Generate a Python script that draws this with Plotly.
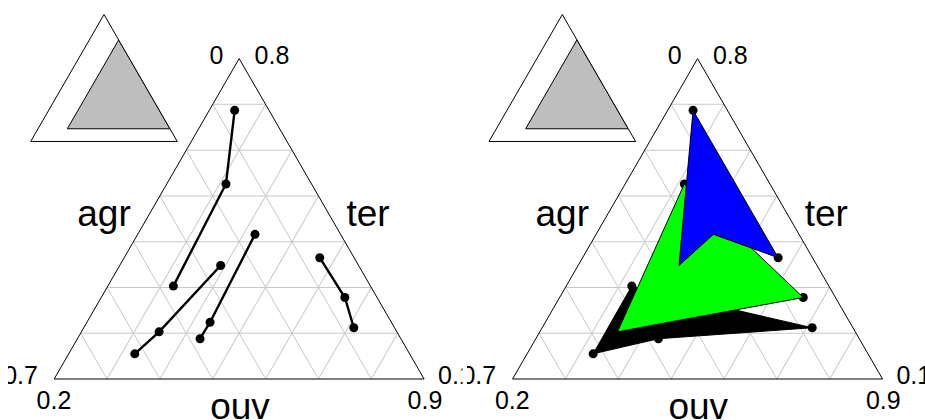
import plotly.graph_objects as go

# ---- data (compositions) ----
var_names = ["agr", "ouv", "ter"]
agr_min, ouv_min, ter_min = 0.0, 0.2, 0.1

# four trajectories (rows) observed at three dates
agr_t1 = [0.065, 0.261, 0.162, 0.065]
ouv_t1 = [0.248, 0.391, 0.422, 0.570]
ter_t1 = [0.687, 0.348, 0.416, 0.365]

agr_t2 = [0.162, 0.450, 0.343, 0.061]
ouv_t2 = [0.312, 0.347, 0.433, 0.661]
ter_t2 = [0.526, 0.203, 0.224, 0.278]

agr_t3 = [0.373, 0.520, 0.380, 0.077]
ouv_t3 = [0.324, 0.325, 0.432, 0.711]
ter_t3 = [0.303, 0.155, 0.188, 0.212]

poly_colors = ["#0000FF", "#00FF00", "#000000"]  # date 1, 2, 3

agr_max = 1 - ouv_min - ter_min
ouv_max = 1 - agr_min - ter_min
ter_max = 1 - agr_min - ouv_min


def fmt(v):
    s = f"{v:.1f}"
    return "0" if s == "0.0" else s


FONT = "Liberation Sans, Arial, Helvetica, sans-serif"

fig = go.Figure()

# ---- left main panel: trajectories ----
for i in range(4):
    fig.add_trace(go.Scatterternary(
        a=[ter_t1[i], ter_t2[i], ter_t3[i]],
        b=[agr_t1[i], agr_t2[i], agr_t3[i]],
        c=[ouv_t1[i], ouv_t2[i], ouv_t3[i]],
        mode="lines+markers",
        line=dict(color="black", width=2.4),
        marker=dict(color="black", size=9),
        subplot="ternary", showlegend=False, hoverinfo="skip"))

# ---- right main panel: points then polygons per date ----
fig.add_trace(go.Scatterternary(
    a=ter_t1 + ter_t2 + ter_t3,
    b=agr_t1 + agr_t2 + agr_t3,
    c=ouv_t1 + ouv_t2 + ouv_t3,
    mode="markers", marker=dict(color="black", size=9),
    subplot="ternary2", showlegend=False, hoverinfo="skip"))

dates = [(agr_t3, ouv_t3, ter_t3, poly_colors[2]),
         (agr_t2, ouv_t2, ter_t2, poly_colors[1]),
         (agr_t1, ouv_t1, ter_t1, poly_colors[0])]
for ag, ou, te, col in dates:
    fig.add_trace(go.Scatterternary(
        a=te + te[:1], b=ag + ag[:1], c=ou + ou[:1],
        mode="lines", fill="toself", fillcolor=col,
        line=dict(color="black", width=1),
        subplot="ternary2", showlegend=False, hoverinfo="skip"))

# ---- insets: zoomed region inside the full simplex ----
for sp in ["ternary3", "ternary4"]:
    fig.add_trace(go.Scatterternary(
        a=[ter_max, ter_min, ter_min, ter_max],
        b=[agr_min, agr_max, agr_min, agr_min],
        c=[ouv_min, ouv_min, ouv_max, ouv_min],
        mode="lines", fill="toself", fillcolor="#BEBEBE",
        line=dict(color="black", width=1),
        subplot=sp, showlegend=False, hoverinfo="skip"))

# ---- text labels (clipped to each panel region, like R figure regions) ----
W, H = 925, 420
offsets = [0.0, 458.3]
clip_left = [8.0, 467.0]
clip_right = [462.5, 925.0]
corner_txt = [fmt(agr_min), fmt(ter_max), fmt(agr_max), fmt(ouv_min),
              fmt(ter_min), fmt(ouv_max)]
corner_x = [216.5, 272.0, 20.5, 54.0, 455.5, 425.0]
corner_y = [58.0, 58.0, 378.0, 403.0, 378.0, 403.0]
name_txt = var_names
name_x = [104.0, 240.0, 368.0]
name_y = [217.0, 410.0, 217.0]

for k, off in enumerate(offsets):
    xa = "x" if k == 0 else "x2"
    ya = "y" if k == 0 else "y2"
    fig.add_trace(go.Scatter(
        x=[v + off for v in corner_x], y=corner_y, text=corner_txt,
        mode="text", textposition="middle center",
        textfont=dict(family=FONT, size=25, color="black"),
        xaxis=xa, yaxis=ya, showlegend=False, hoverinfo="skip",
        cliponaxis=True))
    fig.add_trace(go.Scatter(
        x=[v + off for v in name_x], y=name_y, text=name_txt,
        mode="text", textposition="middle center",
        textfont=dict(family=FONT, size=37, color="black"),
        xaxis=xa, yaxis=ya, showlegend=False, hoverinfo="skip",
        cliponaxis=True))


def tern_axis(mn, grid):
    return dict(min=mn, showgrid=grid, gridcolor="#C8C8C8", gridwidth=1.2,
                dtick=0.1, tick0=0, ticks="", showticklabels=False,
                title=dict(text=""), showline=True, linecolor="black",
                linewidth=1, layer="above traces")


def ternary(xd, yd, mins, grid):
    return dict(domain=dict(x=xd, y=yd), sum=1, bgcolor="white",
                aaxis=tern_axis(mins[0], grid),
                baxis=tern_axis(mins[1], grid),
                caxis=tern_axis(mins[2], grid))


main_y = [(H - 379.0) / H, (H - 58.6) / H]
inset_y = [(H - 142.0) / H, (H - 14.0) / H]
fig.update_layout(
    width=W, height=H,
    margin=dict(l=0, r=0, t=0, b=0),
    paper_bgcolor="white", plot_bgcolor="white",
    font=dict(family=FONT, color="black"),
    ternary=ternary([54.0 / W, 424.3 / W], main_y, (ter_min, agr_min, ouv_min), True),
    ternary2=ternary([512.4 / W, 882.7 / W], main_y, (ter_min, agr_min, ouv_min), True),
    ternary3=ternary([30.7 / W, 177.3 / W], inset_y, (0, 0, 0), False),
    ternary4=ternary([489.0 / W, 635.6 / W], inset_y, (0, 0, 0), False),
    xaxis=dict(domain=[clip_left[0] / W, clip_right[0] / W],
               range=[clip_left[0], clip_right[0]], visible=False, fixedrange=True),
    yaxis=dict(domain=[0, 1], range=[H, 0], visible=False, fixedrange=True),
    xaxis2=dict(domain=[clip_left[1] / W, clip_right[1] / W],
                range=[clip_left[1], clip_right[1]], visible=False, fixedrange=True),
    yaxis2=dict(domain=[0, 1], range=[H, 0], visible=False, fixedrange=True,
                anchor="x2"),
)

fig.write_html("out.html", config={"displayModeBar": False},
               post_script="document.body.style.margin='0px';"
                           "document.body.style.overflow='hidden';")
